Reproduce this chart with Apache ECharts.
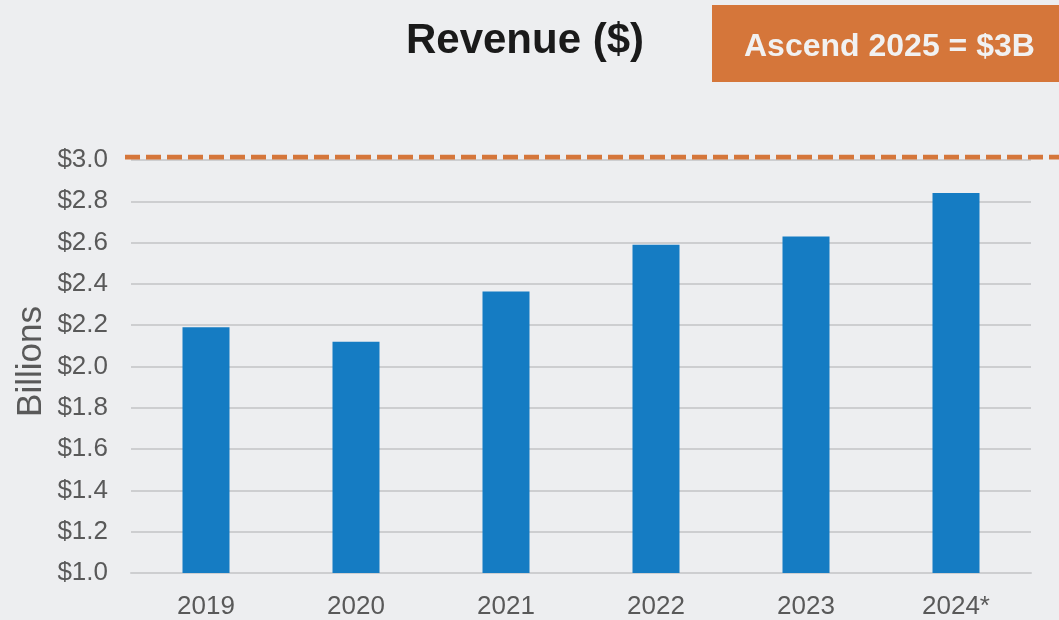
<!DOCTYPE html>
<html>
<head>
<meta charset="utf-8">
<script src="https://cdn.jsdelivr.net/npm/echarts@6/dist/echarts.min.js"></script>
<style>
  html, body { margin: 0; padding: 0; background: #edeef0; }
  #chart { width: 1059px; height: 620px; }
</style>
</head>
<body>
<div id="chart"></div>
<script>
  // chart data
  var years = ['2019', '2020', '2021', '2022', '2023', '2024*'];
  var revenue = [2.19, 2.12, 2.363, 2.59, 2.629, 2.84];
  var targetValue = 3.0;
  var yTicks = [1.0, 3.0, 0.2]; // min, max, step

  var grey = '#595959';
  var gridGrey = '#cdced0';

  var chart = echarts.init(document.getElementById('chart'));

  var options = {
    backgroundColor: '#edeef0',
    animation: false,
    title: {
      text: 'Revenue ($)',
      left: 520,
      top: 15,
      textAlign: 'center',
      textStyle: {
        fontFamily: 'Liberation Sans',
        fontSize: 42,
        fontWeight: 'bold',
        color: '#1a1a1a'
      }
    },
    graphic: [
      {
        type: 'rect',
        left: 712,
        top: 5,
        shape: { width: 347, height: 77 },
        style: { fill: '#d5763a' }
      },
      {
        type: 'text',
        left: 744,
        top: 31,
        style: {
          text: 'Ascend 2025 = $3B',
          fill: '#f1f1f1',
          font: 'bold 32px "Liberation Sans"'
        }
      },
      {
        type: 'text',
        left: 14,
        top: 306,
        rotation: Math.PI / 2,
        style: {
          text: 'Billions',
          fill: grey,
          font: '35px "Liberation Sans"'
        }
      }
    ],
    grid: [
      { left: 131, right: 28, top: 160, bottom: 45 },
      { left: 125, right: 0, top: 157, bottom: 48 }
    ],
    xAxis: [
      {
        type: 'category',
        data: years,
        gridIndex: 0,
        axisTick: { show: false },
        axisLine: { lineStyle: { color: gridGrey, width: 2 } },
        axisLabel: {
          color: grey,
          fontFamily: 'Liberation Sans',
          fontSize: 26,
          margin: 21
        }
      },
      {
        type: 'value',
        gridIndex: 1,
        min: 0,
        max: 1,
        show: false
      }
    ],
    yAxis: [
      {
        type: 'value',
        gridIndex: 0,
        min: yTicks[0],
        max: yTicks[1],
        interval: yTicks[2],
        axisLine: { show: false },
        axisTick: { show: false },
        splitLine: { lineStyle: { color: gridGrey, width: 2 } },
        axisLabel: {
          color: grey,
          fontFamily: 'Liberation Sans',
          fontSize: 26,
          margin: 23,
          formatter: function (v) { return '$' + v.toFixed(1); }
        }
      },
      {
        type: 'value',
        gridIndex: 1,
        min: yTicks[0],
        max: yTicks[1],
        show: false
      }
    ],
    series: [
      {
        name: 'Revenue',
        type: 'bar',
        xAxisIndex: 0,
        yAxisIndex: 0,
        data: revenue,
        barWidth: 47,
        itemStyle: { color: '#157cc3' }
      },
      {
        name: 'Target',
        type: 'line',
        xAxisIndex: 1,
        yAxisIndex: 1,
        data: [[0, targetValue], [1, targetValue]],
        showSymbol: false,
        silent: true,
        lineStyle: {
          color: '#d5763a',
          width: 5,
          type: [15, 6]
        }
      }
    ]
  };

  chart.setOption(options);
</script>
</body>
</html>
